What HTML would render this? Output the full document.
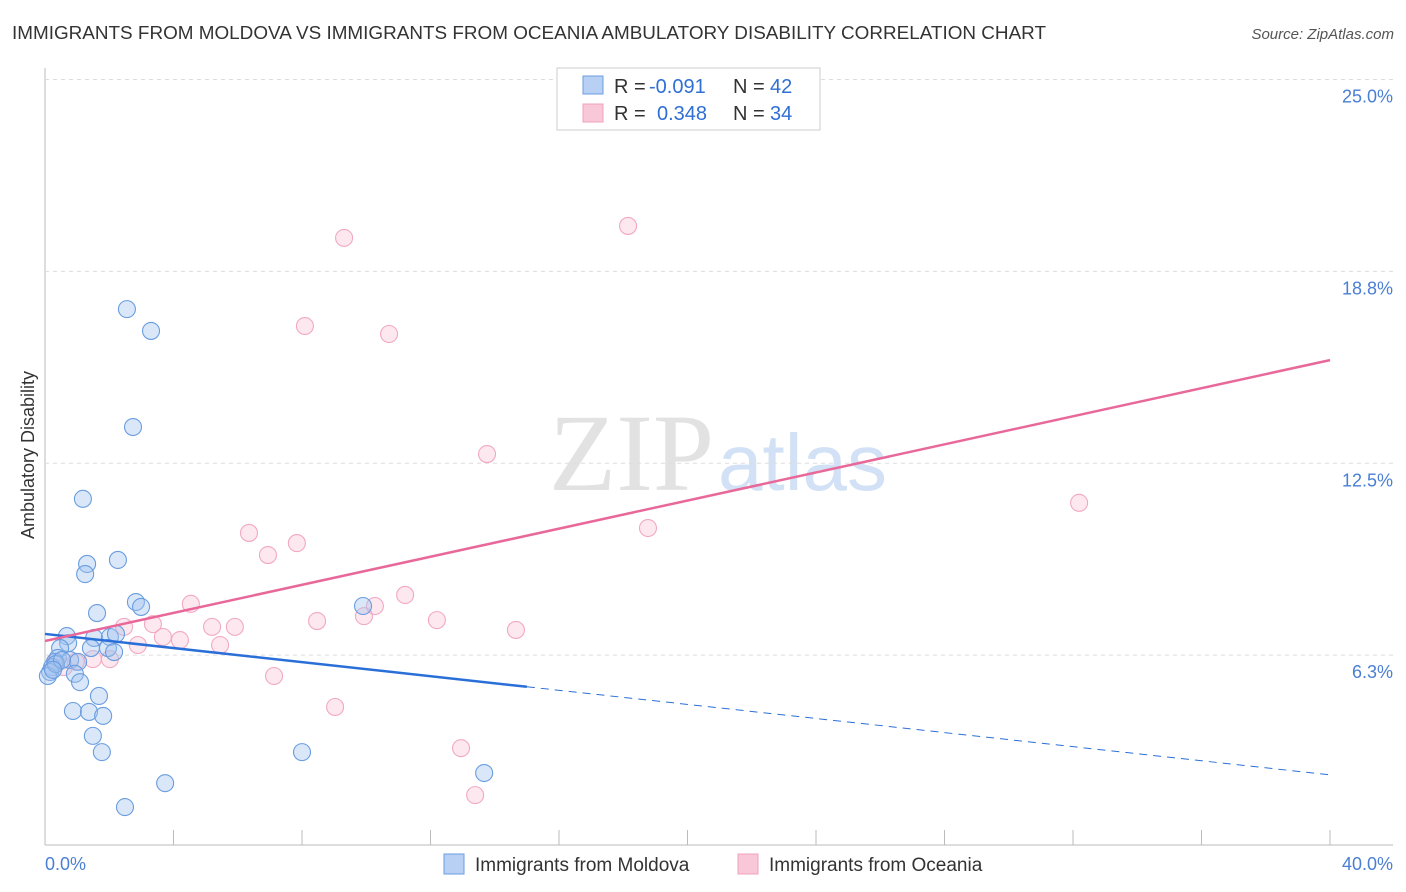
<!DOCTYPE html>
<html><head><meta charset="utf-8"><style>
body{margin:0;background:#fff;font-family:"Liberation Sans",sans-serif}
</style></head><body>
<svg id="c" width="1406" height="892" style="display:block">
<text x="12" y="39" font-size="18" fill="#333" textLength="1034" lengthAdjust="spacingAndGlyphs">IMMIGRANTS FROM MOLDOVA VS IMMIGRANTS FROM OCEANIA AMBULATORY DISABILITY CORRELATION CHART</text>
<text x="1394" y="39" font-size="15" fill="#555" font-style="italic" text-anchor="end">Source: ZipAtlas.com</text>
<text x="714" y="490" font-size="110" fill="#e2e2e2" text-anchor="end" font-family="Liberation Serif">ZIP</text>
<text x="718" y="490" font-size="80" fill="#d2e1f5">atlas</text>
<text transform="translate(34,455) rotate(-90)" font-size="18" fill="#333" text-anchor="middle">Ambulatory Disability</text>
<g id="grid"></g><g id="marks"></g>
<g>
<rect x="557" y="68" width="263" height="62" fill="#fff" stroke="#ccc"/>
<rect x="583" y="76" width="20" height="18" fill="#b8d0f4" stroke="#6a9de0"/>
<rect x="583" y="104" width="20" height="18" fill="#f9c8d8" stroke="#f0a0bc"/>
<text x="614" y="93" font-size="20" fill="#333">R =</text>
<text x="649" y="93" font-size="20" fill="#2f6fd6">-0.091</text>
<text x="733" y="93" font-size="20" fill="#333">N =</text>
<text x="770" y="93" font-size="20" fill="#2f6fd6">42</text>
<text x="614" y="120" font-size="20" fill="#333">R =</text>
<text x="657" y="120" font-size="20" fill="#2f6fd6">0.348</text>
<text x="733" y="120" font-size="20" fill="#333">N =</text>
<text x="770" y="120" font-size="20" fill="#2f6fd6">34</text>
</g>
<g>
<rect x="444" y="854" width="20" height="20" fill="#b8d0f4" stroke="#6a9de0"/>
<text x="475" y="871" font-size="19" fill="#333">Immigrants from Moldova</text>
<rect x="738" y="854" width="20" height="20" fill="#f9c8d8" stroke="#f0a0bc"/>
<text x="769" y="871" font-size="19" fill="#333">Immigrants from Oceania</text>
</g>
</svg>
<script>
const yTicks=[6.25,12.5,18.75,25];
const yTickLabels=["6.3%","12.5%","18.8%","25.0%"];
const xTickLabels=["0.0%","40.0%"];
const blueX=[2.55,3.30,2.74,1.18,1.31,1.25,2.27,2.83,2.99,1.62,9.90,0.68,1.53,2.02,2.21,0.72,1.43,1.96,2.15,0.47,0.40,0.78,1.03,0.31,0.22,0.16,0.09,0.93,1.09,1.68,0.87,1.37,1.81,1.49,1.77,8.00,13.67,3.74,2.49,0.34,0.53,0.25];
const blueY=[17.52,16.81,13.68,11.34,9.22,8.89,9.35,7.98,7.82,7.62,7.85,6.87,6.81,6.84,6.94,6.64,6.48,6.48,6.35,6.48,6.16,6.09,6.03,6.03,5.86,5.70,5.57,5.64,5.37,4.92,4.43,4.40,4.27,3.62,3.09,3.09,2.41,2.08,1.30,5.96,6.09,5.77];
const pinkX=[18.15,9.31,8.09,10.71,13.76,32.19,18.77,6.35,7.84,6.94,11.21,4.54,10.27,9.93,8.47,12.20,3.36,5.20,5.91,2.46,14.66,3.67,4.20,2.89,5.45,1.49,2.02,0.96,0.59,7.13,9.03,12.95,13.39,0.34];
const pinkY=[20.23,19.84,16.97,16.71,12.80,11.21,10.39,10.23,9.90,9.51,8.21,7.92,7.85,7.52,7.36,7.39,7.26,7.17,7.17,7.17,7.07,6.84,6.74,6.58,6.58,6.12,6.12,6.03,5.86,5.57,4.56,3.22,1.69,6.03];
const blueTrend=[6.94,2.35]; const blueSolidEnd=[15.0];
const pinkTrend=[6.71,15.86];
const X=v=>45+v*32.125, Y=v=>847-v*30.7;
const NS="http://www.w3.org/2000/svg";
const grid=document.getElementById('grid'), marks=document.getElementById('marks');
function mk(p,tag,a){const e=document.createElementNS(NS,tag);for(const k in a)e.setAttribute(k,a[k]);p.appendChild(e);return e;}
let ax=mk(grid,'line',{x1:45,y1:68,x2:45,y2:845,stroke:'#bbb'});


let bx=mk(grid,'line',{x1:45,y1:845,x2:1393,y2:845,stroke:'#bbb'});


yTicks.forEach((t,i)=>{
 let g=mk(grid,'line',{x1:45,x2:1393,y1:Y(t),y2:Y(t),stroke:'#ddd','stroke-dasharray':'4,4'});
 
 
 let l=mk(grid,'text',{x:1393,y:Y(t)+23,'text-anchor':'end','font-size':18,fill:'#4a7fd4'});l.textContent=yTickLabels[i];
 
 
});
for(let i=0;i<=10;i++){let t=mk(grid,'line',{x1:X(i*4),x2:X(i*4),y1:830,y2:845,stroke:'#bbb'});
 
 }
[[0,'start',45],[40,'end',1393]].forEach((d,i)=>{let l=mk(grid,'text',{x:d[2],y:870,'text-anchor':d[1],'font-size':18,fill:'#4a7fd4'});l.textContent=xTickLabels[i];
 
 });
function dots(xs,ys,fill,stroke,name){xs.forEach((x,i)=>{let c=mk(marks,'circle',{cx:X(x),cy:Y(ys[i]),r:8.5,fill:fill,stroke:stroke,'stroke-width':1.1});
 
 });}
dots(pinkX,pinkY,'rgba(248,190,210,0.35)','#f2a8c2','oceania-point');
dots(blueX,blueY,'rgba(160,195,240,0.4)','#6a9de0','moldova-point');
const bAt=x=>blueTrend[0]+(blueTrend[1]-blueTrend[0])*x/40;
let b1=mk(marks,'line',{x1:X(0),y1:Y(bAt(0)),x2:X(blueSolidEnd[0]),y2:Y(bAt(blueSolidEnd[0])),stroke:'#2a6fd8','stroke-width':2.5});


let b2=mk(marks,'line',{x1:X(blueSolidEnd[0]),y1:Y(bAt(blueSolidEnd[0])),x2:X(40),y2:Y(bAt(40)),stroke:'#2a6fd8','stroke-width':1,'stroke-dasharray':'8,6'});


let p1=mk(marks,'line',{x1:X(0),y1:Y(pinkTrend[0]),x2:X(40),y2:Y(pinkTrend[1]),stroke:'#e8689a','stroke-width':2.5});


</script>
</body></html>
